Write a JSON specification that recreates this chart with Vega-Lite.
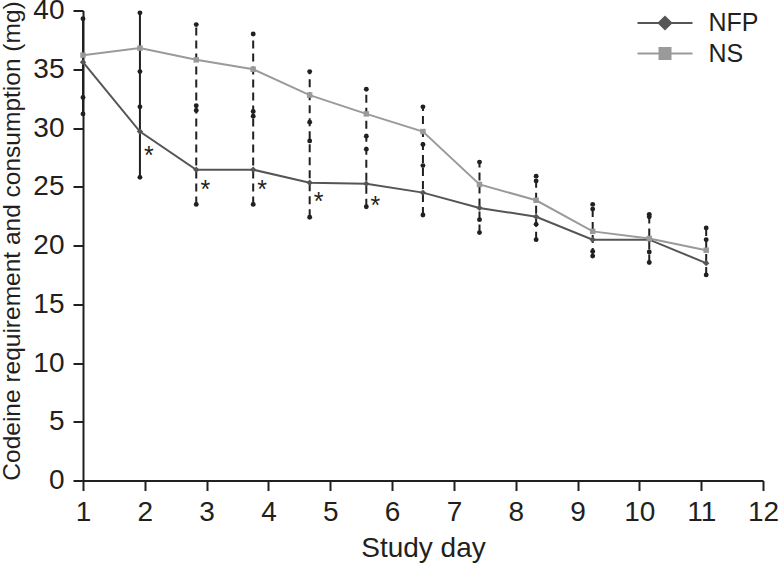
{
  "$schema": "https://vega.github.io/schema/vega-lite/v6.json",
  "width": 680,
  "height": 470,
  "autosize": "none",
  "padding": {"left": 83, "top": 10.5, "right": 16, "bottom": 85.5},
  "background": "white",
  "config": {
    "view": {"stroke": null},
    "font": "Liberation Sans",
    "axis": {
      "grid": false,
      "domainColor": "#231f20",
      "domainWidth": 2,
      "tickColor": "#231f20",
      "tickWidth": 2,
      "tickSize": 10,
      "labelColor": "#231f20",
      "labelFont": "Liberation Sans",
      "labelFontSize": 28,
      "titleColor": "#231f20",
      "titleFont": "Liberation Sans",
      "titleFontSize": 28,
      "titleFontWeight": "normal"
    }
  },
  "datasets": {
    "series": [
      {"day": 1.0, "series": "NFP", "value": 35.6},
      {"day": 1.921, "series": "NFP", "value": 29.7},
      {"day": 2.832, "series": "NFP", "value": 26.45},
      {"day": 3.753, "series": "NFP", "value": 26.45},
      {"day": 4.667, "series": "NFP", "value": 25.35},
      {"day": 5.583, "series": "NFP", "value": 25.26},
      {"day": 6.499, "series": "NFP", "value": 24.5},
      {"day": 7.414, "series": "NFP", "value": 23.2},
      {"day": 8.33, "series": "NFP", "value": 22.45},
      {"day": 9.245, "series": "NFP", "value": 20.5},
      {"day": 10.16, "series": "NFP", "value": 20.5},
      {"day": 11.081, "series": "NFP", "value": 18.5},
      {"day": 1.0, "series": "NS", "value": 36.2},
      {"day": 1.921, "series": "NS", "value": 36.8},
      {"day": 2.832, "series": "NS", "value": 35.8},
      {"day": 3.753, "series": "NS", "value": 35.0},
      {"day": 4.667, "series": "NS", "value": 32.8},
      {"day": 5.583, "series": "NS", "value": 31.2},
      {"day": 6.499, "series": "NS", "value": 29.7},
      {"day": 7.414, "series": "NS", "value": 25.2},
      {"day": 8.33, "series": "NS", "value": 23.85},
      {"day": 9.245, "series": "NS", "value": 21.2},
      {"day": 10.16, "series": "NS", "value": 20.6},
      {"day": 11.081, "series": "NS", "value": 19.6}
    ],
    "dots": [
      {"day": 1.0, "value": 39.3}, {"day": 1.0, "value": 32.6}, {"day": 1.0, "value": 31.2},
      {"day": 1.921, "value": 39.8}, {"day": 1.921, "value": 34.8}, {"day": 1.921, "value": 31.8}, {"day": 1.921, "value": 25.8},
      {"day": 2.832, "value": 38.8}, {"day": 2.832, "value": 31.9}, {"day": 2.832, "value": 31.5}, {"day": 2.832, "value": 23.5},
      {"day": 3.753, "value": 38.0}, {"day": 3.753, "value": 31.4}, {"day": 3.753, "value": 31.0}, {"day": 3.753, "value": 23.5},
      {"day": 4.667, "value": 34.8}, {"day": 4.667, "value": 30.5}, {"day": 4.667, "value": 28.9}, {"day": 4.667, "value": 22.4},
      {"day": 5.583, "value": 33.3}, {"day": 5.583, "value": 29.3}, {"day": 5.583, "value": 28.2}, {"day": 5.583, "value": 23.3},
      {"day": 6.499, "value": 31.8}, {"day": 6.499, "value": 28.6}, {"day": 6.499, "value": 26.8}, {"day": 6.499, "value": 22.6},
      {"day": 7.414, "value": 27.1}, {"day": 7.414, "value": 22.2}, {"day": 7.414, "value": 21.1},
      {"day": 8.33, "value": 25.9}, {"day": 8.33, "value": 25.5}, {"day": 8.33, "value": 21.8}, {"day": 8.33, "value": 20.5},
      {"day": 9.245, "value": 23.5}, {"day": 9.245, "value": 23.1}, {"day": 9.245, "value": 19.5}, {"day": 9.245, "value": 19.1},
      {"day": 10.16, "value": 22.65}, {"day": 10.16, "value": 22.45}, {"day": 10.16, "value": 19.45}, {"day": 10.16, "value": 18.55},
      {"day": 11.081, "value": 21.5}, {"day": 11.081, "value": 20.5}, {"day": 11.081, "value": 17.5}
    ],
    "stars": [
      {"day": 1.921, "value": 28.1, "label": "*"},
      {"day": 2.832, "value": 25.2, "label": "*"},
      {"day": 3.753, "value": 25.2, "label": "*"},
      {"day": 4.667, "value": 24.2, "label": "*"},
      {"day": 5.583, "value": 23.9, "label": "*"}
    ]
  },
  "layer": [
    {
      "data": {"name": "dots"},
      "transform": [
        {"aggregate": [{"op": "min", "field": "value", "as": "low"}, {"op": "max", "field": "value", "as": "high"}], "groupby": ["day"]},
        {"filter": "datum.day < 2.5"}
      ],
      "mark": {"type": "rule", "color": "#231f20", "strokeWidth": 2},
      "encoding": {
        "x": {"field": "day", "type": "quantitative", "scale": {"domain": [1, 12], "nice": false, "zero": false},
          "axis": {"values": [1,2,3,4,5,6,7,8,9,10,11,12], "format": "d", "labelOverlap": false, "labelFlush": false, "title": "Study day", "labelPadding": 8, "titleY": 76, "titleBaseline": "alphabetic"}},
        "y": {"field": "low", "type": "quantitative", "scale": {"domain": [0, 40], "nice": false},
          "axis": {"values": [0,5,10,15,20,25,30,35,40], "format": "d", "labelOverlap": false, "labelFlush": false, "labelPadding": 9, "title": "Codeine requirement and consumption (mg)", "titleFontSize": 24.5, "titleX": -64, "titleY": 230, "titleAngle": -90, "titleAlign": "center", "titleBaseline": "alphabetic"}},
        "y2": {"field": "high"}
      }
    },
    {
      "data": {"name": "dots"},
      "transform": [
        {"aggregate": [{"op": "min", "field": "value", "as": "low"}, {"op": "max", "field": "value", "as": "high"}], "groupby": ["day"]},
        {"filter": "datum.day > 2.5"}
      ],
      "mark": {"type": "rule", "color": "#231f20", "strokeWidth": 2, "strokeDash": [8, 5]},
      "encoding": {
        "x": {"field": "day", "type": "quantitative"},
        "y": {"field": "low", "type": "quantitative"},
        "y2": {"field": "high"}
      }
    },
    {
      "data": {"name": "dots"},
      "mark": {"type": "point", "shape": "circle", "filled": true, "size": 24, "color": "#231f20", "opacity": 1},
      "encoding": {
        "x": {"field": "day", "type": "quantitative"},
        "y": {"field": "value", "type": "quantitative"}
      }
    },
    {
      "data": {"name": "series"},
      "mark": {"type": "line", "strokeWidth": 2},
      "encoding": {
        "x": {"field": "day", "type": "quantitative"},
        "y": {"field": "value", "type": "quantitative"},
        "color": {"field": "series", "type": "nominal", "scale": {"domain": ["NFP", "NS"], "range": ["#555555", "#9a9a9a"]}}
      }
    },
    {
      "data": {"name": "series"},
      "transform": [{"filter": "datum.series == 'NFP'"}],
      "mark": {"type": "point", "shape": "diamond", "filled": true, "size": 40, "opacity": 1},
      "encoding": {
        "x": {"field": "day", "type": "quantitative"},
        "y": {"field": "value", "type": "quantitative"},
        "color": {"field": "series", "type": "nominal"}
      }
    },
    {
      "data": {"name": "series"},
      "transform": [{"filter": "datum.series == 'NS'"}],
      "mark": {"type": "point", "shape": "square", "filled": true, "size": 30, "opacity": 1},
      "encoding": {
        "x": {"field": "day", "type": "quantitative"},
        "y": {"field": "value", "type": "quantitative"},
        "color": {"field": "series", "type": "nominal"}
      }
    },
    {
      "data": {"name": "series"},
      "mark": {"type": "point", "filled": true, "opacity": 0},
      "encoding": {
        "x": {"field": "day", "type": "quantitative"},
        "y": {"field": "value", "type": "quantitative"},
        "color": {"field": "series", "type": "nominal",
          "legend": {
            "orient": "none", "legendX": 569.5, "legendY": 0, "title": null, "padding": 0,
            "labelFontSize": 25, "labelFont": "Liberation Sans", "labelColor": "#231f20", "labelOffset": 31,
            "symbolSize": 400, "symbolStrokeWidth": 2, "symbolOpacity": 1, "rowPadding": 4.6,
            "encode": {"symbols": {"update": {"stroke": {"scale": "color", "field": "value"}, "strokeWidth": {"value": 2}, "opacity": {"value": 1}}}}
          }},
        "shape": {"field": "series", "type": "nominal",
          "scale": {"domain": ["NFP", "NS"], "range": ["M-2.75,0H2.75M-0.62,0L0,-0.62L0.62,0L0,0.62Z", "M-2.75,0H2.75M-0.55,-0.55H0.55V0.55H-0.55Z"]}}
      }
    },
    {
      "data": {"name": "stars"},
      "mark": {"type": "text", "fontSize": 25, "font": "Liberation Sans", "color": "#231f20", "align": "center", "baseline": "alphabetic", "dx": 9, "dy": 14},
      "encoding": {
        "x": {"field": "day", "type": "quantitative"},
        "y": {"field": "value", "type": "quantitative"},
        "text": {"field": "label"}
      }
    }
  ]
}
